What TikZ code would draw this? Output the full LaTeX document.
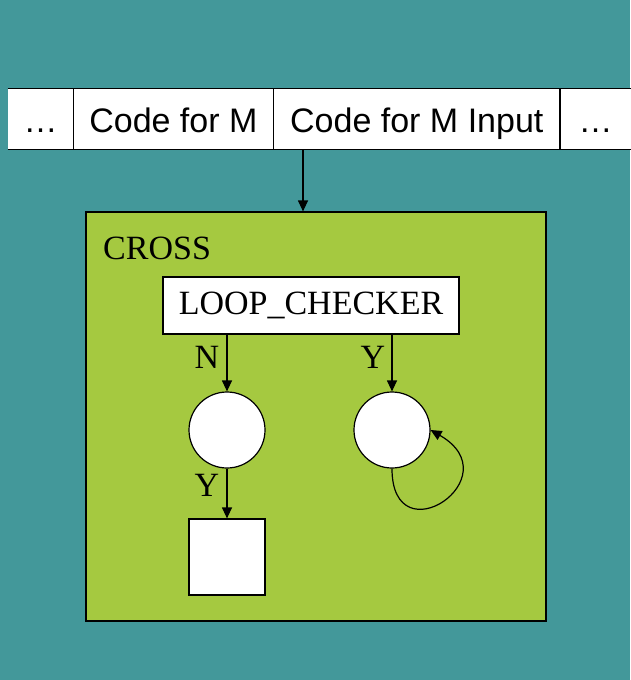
\documentclass[tikz,border=0pt]{standalone}
\usepackage{fontspec}
\setmainfont{Liberation Serif}
\newfontfamily\tapefont{Liberation Sans}
\usetikzlibrary{arrows.meta,positioning}
\definecolor{TealBack}{RGB}{67,152,154}
\definecolor{CrossGreen}{RGB}{165,201,64}
\tikzset{
  tapecell/.style={minimum height=60pt,inner sep=0pt,text height=28pt,
    text depth=2pt,font=\tapefont\fontsize{34}{40}\selectfont},
  state/.style={circle,draw,fill=white,line width=1.2pt,minimum size=76pt,
    inner sep=0pt},
  haltbox/.style={draw,fill=white,line width=1.2pt,minimum size=76pt,
    inner sep=0pt},
  machine/.style={draw,fill=white,line width=1.2pt,minimum width=296pt,
    minimum height=57pt,font=\fontsize{34}{40}\selectfont},
  arrow/.style={-{Triangle[length=11pt,width=10pt]},line width=1.2pt},
  lbl/.style={font=\fontsize{34}{40}\selectfont,inner sep=0pt}
}

\begin{document}
\begin{tikzpicture}[x=1pt,y=-1pt,node distance=0pt]
      \fill[TealBack] (0,0) rectangle (630,680);
      \useasboundingbox (0,0) rectangle (630,680);
      % tape
      \fill[white] (8,89) rectangle (630,149);
      \node[tapecell,minimum width=65pt] (t0) at (40.5,119) {…};
      \node[tapecell,minimum width=200pt,right=of t0] (t1) {Code for M};
      \node[tapecell,minimum width=286pt,right=of t1] (t2) {Code for M Input};
      \node[tapecell,minimum width=71pt,right=of t2] (t3) {…};
      \draw[line width=1.2pt] (t0.north west) -- (t3.north east);
      \draw[line width=1.2pt] (t0.south west) -- (t3.south east);
      \foreach \c in {t0,t1,t2}
        \draw[line width=1.2pt] (\c.north east) -- (\c.south east);
      % the machine CROSS
      \node[draw,fill=CrossGreen,line width=1.2pt,minimum width=460pt,
        minimum height=409pt] (cross) at (316,416.5) {};
      \node[lbl,anchor=base west] (name) at (103,259) {CROSS};
      \coordinate (feed) at (303,149);
      \draw[arrow] (feed) -- (feed |- cross.north);
      \node[machine] (check) at (311,305.5) {LOOP\_CHECKER};
      \node[state] (s1) at (227,430) {};
      \node[state] (s2) at (392,430) {};
      \node[haltbox] (h) at (227,557) {};
      \draw[arrow] (s1.north |- check.south) -- (s1.north);
      \draw[arrow] (s2.north |- check.south) -- (s2.north);
      \draw[arrow] (s1.south) -- (h.north);
      \draw[arrow] (s2.south) to[out=-90,in=-30,out distance=90pt,
        in distance=95pt] (s2.east);
      \node[lbl,anchor=base] (no) at (207,368) {N};
      \node[lbl,anchor=base] (yes) at (373,368) {Y};
      \node[lbl,anchor=base] (yes2) at (207,496) {Y};
    \end{tikzpicture}
\end{document}
